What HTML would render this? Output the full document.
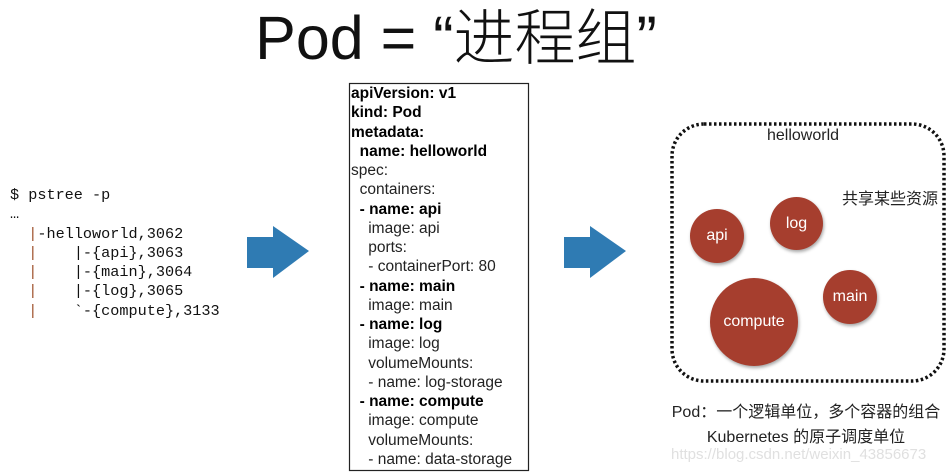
<!DOCTYPE html>
<html><head><meta charset="utf-8"><style>
body{margin:0;width:952px;height:474px;background:#fff;position:relative;overflow:hidden;font-family:"Liberation Sans","Noto Sans CJK SC",sans-serif;}
.a{position:absolute;white-space:pre;}
.t{left:0;width:912px;top:-4px;text-align:center;font-size:61px;line-height:84px;font-family:"Liberation Sans","Noto Sans CJK SC",sans-serif;font-weight:300;color:#111;}
.m{font-family:"Liberation Mono",monospace;font-size:15.2px;color:#111;line-height:19.3px;}
.p{color:#a0522d;}
.y{font-size:15.5px;line-height:19.25px;color:#222;}
.b{font-weight:bold;color:#000;}
.c{position:absolute;border-radius:50%;background:#a63e2e;color:#fff;display:flex;align-items:center;justify-content:center;font-size:16px;box-shadow:1px 2px 3px rgba(0,0,0,.35);}
</style></head><body>
<div class="a t">Pod = “进程组”</div>
<div class="a m" style="left:10px;top:186px;">$ pstree -p
…
  <span class="p">|</span>-helloworld,3062
  <span class="p">|</span>    |-{api},3063
  <span class="p">|</span>    |-{main},3064
  <span class="p">|</span>    |-{log},3065
  <span class="p">|</span>    `-{compute},3133</div>
<svg class="a" style="left:0;top:0" width="952" height="474">
<polygon points="247,237 273,237 273,226 309,251 273,278 273,268 247,268" fill="#2f7bb3"/>
<polygon points="564,237 590,237 590,226 626,251 590,278 590,268 564,268" fill="#2f7bb3"/>
<rect x="349.5" y="83.5" width="179" height="387" fill="none" stroke="#222" stroke-width="1.2"/>
<rect x="672" y="124" width="272" height="257" rx="32" fill="none" stroke="#111" stroke-width="3.5" stroke-dasharray="2.5 2.5"/>
</svg>
<div class="a y" style="left:351px;top:84px;"><span class="b">apiVersion: v1
kind: Pod
metadata:
  name: helloworld</span>
spec:
  containers:
  <span class="b">- name: api</span>
    image: api
    ports:
    - containerPort: 80
  <span class="b">- name: main</span>
    image: main
  <span class="b">- name: log</span>
    image: log
    volumeMounts:
    - name: log-storage
  <span class="b">- name: compute</span>
    image: compute
    volumeMounts:
    - name: data-storage</div>
<div class="a" style="left:767px;top:127px;font-size:16px;color:#222;">helloworld</div>
<div class="a" style="left:842px;top:185px;font-size:16px;color:#222;">共享某些资源</div>
<div class="c" style="left:690px;top:209px;width:54px;height:54px;">api</div>
<div class="c" style="left:770px;top:197px;width:53px;height:53px;">log</div>
<div class="c" style="left:710px;top:278px;width:88px;height:88px;">compute</div>
<div class="c" style="left:823px;top:270px;width:54px;height:54px;">main</div>
<div class="a" style="left:651px;width:310px;text-align:center;top:400px;font-size:16px;line-height:25px;color:#222;">Pod：一个逻辑单位，多个容器的组合
Kubernetes 的原子调度单位</div>
<div class="a" style="left:671px;top:446px;font-size:15px;color:#e0e0e0;">https://blog.csdn.net/weixin_43856673</div>
</body></html>
